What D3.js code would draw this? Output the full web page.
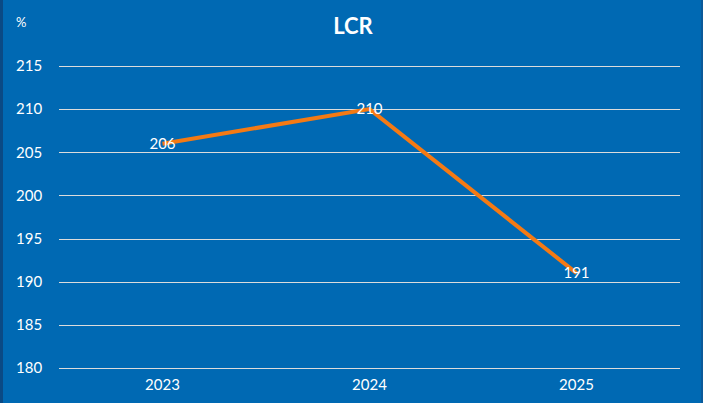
<!DOCTYPE html>
<meta charset="utf-8">
<script src="https://d3js.org/d3.v7.min.js"></script>
<style>
  body { margin: 0; background: #0069b3; }
  text { font-family: Lato, "Noto Sans", sans-serif; fill: #fff; }
  .tick { font-size: 15px; }
  .title { font-size: 22px; font-weight: bold; }
</style>
<div id="chart"></div>
<script>
  // data
  var years = ['2023', '2024', '2025'];
  var lcr = [206, 210, 191];
  var yTicks = [180, 185, 190, 195, 200, 205, 210, 215];

  var width = 703, height = 403;

  var svg = d3.select('#chart').append('svg')
    .attr('width', width)
    .attr('height', height);

  svg.append('rect').attr('width', width).attr('height', height).attr('fill', '#0069b3');
  // darker edge strips
  svg.append('rect').attr('x', 0).attr('y', 0).attr('width', 3).attr('height', height).attr('fill', '#0a4a85');
  svg.append('rect').attr('x', width - 2).attr('y', 0).attr('width', 2).attr('height', height).attr('fill', '#0a5a9a');

  var x = d3.scaleBand().domain(years).range([59, 680]);
  var y = d3.scaleLinear().domain([180, 215]).range([368, 66]);

  // grid
  svg.append('g').selectAll('line')
    .data(yTicks)
    .enter().append('line')
      .attr('x1', 59).attr('x2', 680)
      .attr('y1', function(d){ return Math.round(y(d)) + 0.5; })
      .attr('y2', function(d){ return Math.round(y(d)) + 0.5; })
      .attr('stroke', '#dcdcdc')
      .attr('stroke-width', 1.2);

  // y labels
  svg.append('g').selectAll('text')
    .data(yTicks)
    .enter().append('text')
      .classed('tick', true)
      .attr('x', 16)
      .attr('y', function(d){ return y(d); })
      .attr('dy', '0.35em')
      .text(function(d){ return d; });

  // x labels
  svg.append('g').selectAll('text')
    .data(years)
    .enter().append('text')
      .classed('tick', true)
      .attr('x', function(d){ return x(d) + x.bandwidth() / 2; })
      .attr('y', 390)
      .attr('text-anchor', 'middle')
      .text(function(d){ return d; });

  svg.append('text').classed('tick', true).attr('x', 16).attr('y', 27).style('font-size', '13px').text('%');
  svg.append('text').classed('title', true).attr('x', 353).attr('y', 34).attr('text-anchor', 'middle').text('LCR');

  var line = d3.line()
    .x(function(d, i){ return x(years[i]) + x.bandwidth() / 2; })
    .y(function(d){ return y(d); });

  svg.append('path')
    .datum(lcr)
    .attr('d', line)
    .attr('fill', 'none')
    .attr('stroke', '#f47a14')
    .attr('stroke-width', 4);

  // value labels
  svg.append('g').selectAll('text')
    .data(lcr)
    .enter().append('text')
      .classed('tick', true)
      .attr('x', function(d, i){ return x(years[i]) + x.bandwidth() / 2; })
      .attr('y', function(d){ return y(d); })
      .attr('dy', '0.35em')
      .attr('text-anchor', 'middle')
      .text(function(d){ return d; });
</script>
